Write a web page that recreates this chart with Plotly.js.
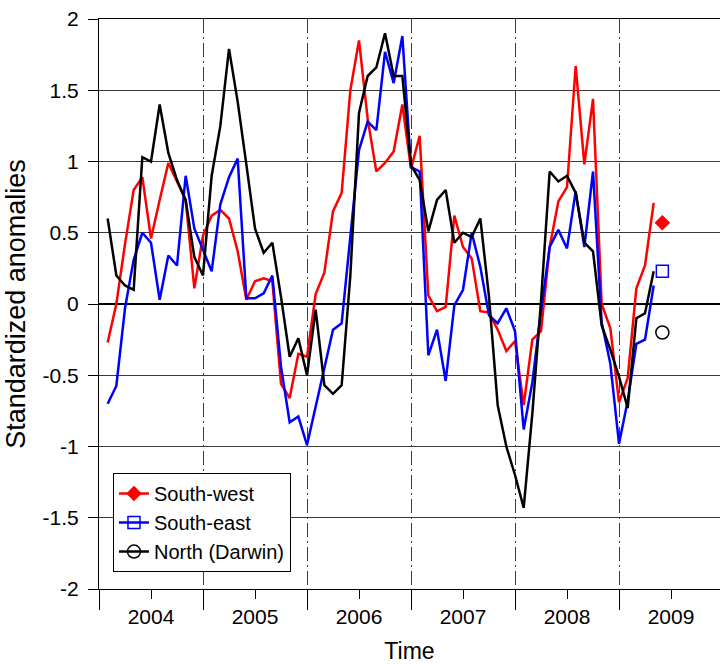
<!DOCTYPE html>
<html>
<head>
<meta charset="utf-8">
<script src="https://cdn.plot.ly/plotly-3.0.1.min.js"></script>
<style>html,body{margin:0;padding:0;background:#fff}#chart{width:720px;height:664px}</style>
</head>
<body>
<div id="chart"></div>
<script>
// Monthly standardized anomalies, Jan 2004 .. Apr 2009 (64 months)
const southWest = [
  -0.27, 0.00, 0.42, 0.80, 0.89, 0.46, 0.73, 0.99, 0.86, 0.73, 0.11, 0.48,
  0.62, 0.66, 0.60, 0.37, 0.03, 0.16, 0.18, 0.16, -0.56, -0.66, -0.35, -0.37,
  0.07, 0.22, 0.65, 0.78, 1.50, 1.85, 1.30, 0.93, 0.99, 1.07, 1.40, 0.95,
  1.18, 0.06, -0.05, -0.02, 0.62, 0.40, 0.32, -0.05, -0.06, -0.18, -0.33, -0.26,
  -0.71, -0.25, -0.19, 0.40, 0.72, 0.82, 1.67, 0.98, 1.44, 0.00, -0.17, -0.69,
  -0.52, 0.11, 0.27, 0.71
];
const southEast = [
  -0.70, -0.575, -0.03, 0.31, 0.50, 0.43, 0.03, 0.34, 0.27, 0.90, 0.53, 0.38,
  0.23, 0.70, 0.89, 1.02, 0.04, 0.04, 0.075, 0.20, -0.44, -0.83, -0.79, -0.99,
  -0.72, -0.45, -0.18, -0.135, 0.45, 1.08, 1.28, 1.22, 1.77, 1.55, 1.88, 0.96,
  0.93, -0.36, -0.18, -0.54, -0.01, 0.10, 0.50, 0.26, -0.08, -0.135, -0.03, -0.19,
  -0.88, -0.55, -0.05, 0.40, 0.52, 0.39, 0.79, 0.40, 0.93, -0.13, -0.42, -0.98,
  -0.68, -0.28, -0.25, 0.13
];
const northDarwin = [
  0.60, 0.20, 0.13, 0.10, 1.03, 1.00, 1.40, 1.06, 0.87, 0.73, 0.33, 0.20,
  0.90, 1.25, 1.79, 1.42, 0.98, 0.53, 0.36, 0.43, 0.05, -0.37, -0.24, -0.50,
  -0.04, -0.57, -0.63, -0.57, 0.20, 1.34, 1.60, 1.66, 1.90, 1.60, 1.60, 0.975,
  0.87, 0.51, 0.73, 0.80, 0.43, 0.50, 0.47, 0.60, 0.05, -0.71, -1.00, -1.20,
  -1.43, -0.77, 0.02, 0.93, 0.86, 0.90, 0.78, 0.43, 0.37, -0.15, -0.32, -0.51,
  -0.73, -0.10, -0.065, 0.23
];
// Single later value (May 2009) shown as a marker
const latestMonth = '2009-05';
const latestSW = 0.57;
const latestSE = 0.23;
const latestN = -0.20;

const seriesNames = ['South-west', 'South-east', 'North (Darwin)'];
const yearLabels = ['2004', '2005', '2006', '2007', '2008', '2009'];
const yTickVals = [-2, -1.5, -1, -0.5, 0, 0.5, 1, 1.5, 2];
const yTickText = ['-2', '-1.5', '-1', '-0.5', '0', '0.5', '1', '1.5', '2'];

// month labels 'YYYY-MM'
const months = [];
for (let y = 2004; y <= 2009; y++) {
  for (let m = 1; m <= 12; m++) {
    if (months.length < southWest.length) months.push(y + '-' + String(m).padStart(2, '0'));
  }
}
// position: monthly value plotted at end of its month (decimal year)
function pos(label) {
  const p = label.split('-');
  return +p[0] + (+p[1]) / 12;
}
const xs = months.map(pos);
const xLatest = [pos(latestMonth)];

const font = 'Liberation Sans, Arial, sans-serif';
const lw = 2.5;
const traces = [
  {x: xs, y: southWest, mode: 'lines', line: {color: '#ff0000', width: lw}, showlegend: false, hoverinfo: 'skip'},
  {x: xs, y: southEast, mode: 'lines', line: {color: '#0000ff', width: lw}, showlegend: false, hoverinfo: 'skip'},
  {x: xs, y: northDarwin, mode: 'lines', line: {color: '#000000', width: lw}, showlegend: false, hoverinfo: 'skip'},
  {x: xLatest, y: [latestSW], name: seriesNames[0], mode: 'lines+markers', line: {color: '#ff0000', width: lw},
   marker: {symbol: 'diamond', size: 12, color: '#ff0000'}},
  {x: xLatest, y: [latestSE], name: seriesNames[1], mode: 'lines+markers', line: {color: '#0000ff', width: lw},
   marker: {symbol: 'square-open', size: 12, color: '#0000ff', line: {width: 1.5}}},
  {x: xLatest, y: [latestN], name: seriesNames[2], mode: 'lines+markers', line: {color: '#000000', width: lw},
   marker: {symbol: 'circle-open', size: 13, color: '#000000', line: {width: 1.5}}}
];

const yearMid = yearLabels.map(y => +y + 0.5);
const yearBounds = yearLabels.map(y => +y);

const layout = {
  width: 720, height: 664,
  margin: {l: 99, r: 0, t: 19, b: 75},
  paper_bgcolor: '#fff', plot_bgcolor: '#fff',
  font: {family: font, size: 21, color: '#000'},
  showlegend: true,
  legend: {
    x: 0.0225, y: 0.2035, xanchor: 'left', yanchor: 'top',
    bgcolor: '#fff', bordercolor: '#000', borderwidth: 1,
    font: {family: font, size: 20, color: '#000'},
    itemwidth: 30
  },
  xaxis: {
    range: [2004, 2009.971],
    tickmode: 'array', tickvals: yearMid, ticktext: yearLabels,
    ticks: 'outside', ticklen: 9, tickwidth: 1, tickcolor: '#000',
    showgrid: false, zeroline: false,
    showline: true, linecolor: '#000', linewidth: 1, mirror: true,
    minor: {tickmode: 'array', tickvals: yearBounds, ticks: 'outside', ticklen: 20, tickwidth: 1, tickcolor: '#000',
            showgrid: true, gridcolor: '#3a3a3a', gridwidth: 1, griddash: '14px,4px,2px,4px'},
    tickfont: {size: 21},
    ticklabelstandoff: 0,
    title: {text: 'Time', font: {size: 23}, standoff: 15}
  },
  yaxis: {
    range: [-2, 2],
    tickmode: 'array', tickvals: yTickVals, ticktext: yTickText,
    ticks: 'outside', ticklen: 10, tickwidth: 1, tickcolor: '#000',
    showgrid: true, gridcolor: '#3a3a3a', gridwidth: 1,
    zeroline: true, zerolinecolor: '#000', zerolinewidth: 2.5,
    showline: true, linecolor: '#000', linewidth: 1,
    tickfont: {size: 21},
    ticklabelstandoff: 5,
    title: {text: 'Standardized anomalies', font: {size: 27}, standoff: 9}
  }
};

Plotly.newPlot('chart', traces, layout, {displayModeBar: false, staticPlot: true});
</script>
</body>
</html>
